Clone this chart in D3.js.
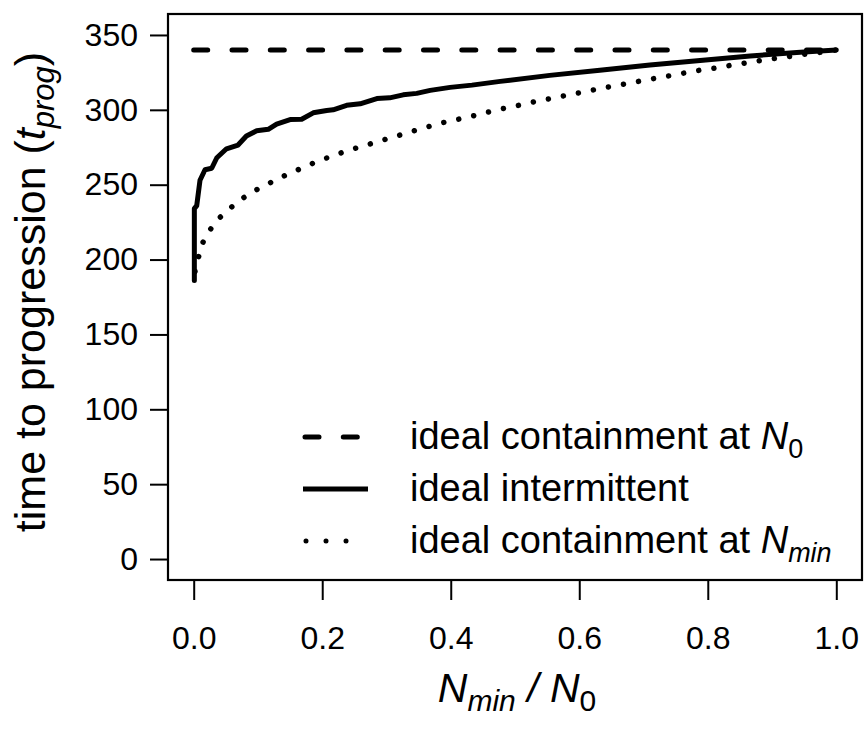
<!DOCTYPE html>
<html><head><meta charset="utf-8">
<script src="https://cdn.jsdelivr.net/npm/d3@7"></script>
<style>body{margin:0;background:#fff}text{font-family:"Liberation Sans",Arial,Helvetica,sans-serif;fill:#000}</style>
</head><body><svg id="c" width="864" height="734"></svg>
<script>
const xTicks=[0,0.2,0.4,0.6,0.8,1.0];
const yTicks=[0,50,100,150,200,250,300,350];
const containN0X=[0,1];
const containN0Y=[340,340];
const intermX=[0.001,0.001,0.0047,0.0098,0.0176,0.028,0.036,0.051,0.069,0.082,0.098,0.116,0.129,0.150,0.168,0.186,0.207,0.217,0.238,0.259,0.285,0.305,0.326,0.347,0.368,0.399,0.433,0.477,0.554,0.632,0.71,0.788,0.866,0.944,1.0];
const intermY=[186,234,236,253,260,261,268,274,276.5,282.5,286,287,290.5,293.5,293.7,298,299.6,300,303,304,307.5,308,310,311,313,315,316.5,319,323,326.5,330,333,336,338.5,340];
const containNminX=[0.002,0.006,0.0125,0.024,0.038,0.053,0.070,0.090,0.109,0.131,0.152,0.173,0.195,0.218,0.241,0.265,0.288,0.312,0.335,0.359,0.383,0.4326,0.4575,0.4818,0.5067,0.532,0.557,0.582,0.609,0.634,0.660,0.685,0.711,0.736,0.761,0.788,0.814,0.839,0.866,0.892,0.917,0.945,0.969,1.0];
const containNminY=[192,199,210,219,227,233,239,245,249,254,258,262,266,269.5,273,276,279,282,285,288,291,295.7,298.4,300.9,303.1,305.6,307.6,309.9,312.1,314.4,316.4,318.4,320.5,322.4,324.4,326.5,328,330,331.8,333.6,335,336.8,338,340];
const legendLabels=[["ideal containment at ","N","0"],["ideal intermittent","",""],["ideal containment at ","N","min"]];

const svg=d3.select("#c");
const L=168,R=862,T=14,B=580;
const xs=d3.scaleLinear().domain([-0.04,1.04]).range([L,R]);
const ys=d3.scaleLinear().domain([-14,364]).range([B,T]);
const FT=32, FL=38, FX=41, FY=43;

// axes
const gx=svg.append("g").attr("transform",`translate(0,${B})`)
 .call(d3.axisBottom(xs).tickValues(xTicks).tickFormat(d3.format(".1f")).tickSize(20).tickPadding(26));
gx.select(".domain").remove();
gx.selectAll("line").attr("stroke","#000").attr("stroke-width",2);
gx.selectAll("text").style("font-size",FT+"px").attr("font-family","Liberation Sans, Arial, sans-serif");
const gy=svg.append("g").attr("transform",`translate(${L},0)`)
 .call(d3.axisLeft(ys).tickValues(yTicks).tickSize(18).tickPadding(12));
gy.select(".domain").remove();
gy.selectAll("line").attr("stroke","#000").attr("stroke-width",2);
gy.selectAll("text").style("font-size",FT+"px").attr("font-family","Liberation Sans, Arial, sans-serif");

// box
svg.append("rect").attr("x",L).attr("y",T).attr("width",R-L).attr("height",B-T).attr("fill","none").attr("stroke","#000").attr("stroke-width",2.2);

const line=d3.line().x(d=>xs(d[0])).y(d=>ys(d[1]));
const zip=(a,b)=>a.map((v,i)=>[v,b[i]]);
svg.append("path").datum(zip(containN0X,containN0Y)).attr("d",line).attr("fill","none").attr("stroke","#000")
 .attr("stroke-width",5).attr("stroke-linecap","round").attr("stroke-dasharray","14,24.3");
svg.append("path").datum(zip(intermX,intermY)).attr("d",line).attr("fill","none").attr("stroke","#000")
 .attr("stroke-width",5).attr("stroke-linejoin","round").attr("stroke-linecap","round");
svg.append("path").datum(zip(containNminX,containNminY)).attr("d",line).attr("fill","none").attr("stroke","#000")
 .attr("stroke-width",5.5).attr("stroke-linecap","round").attr("stroke-dasharray","0.01,15.3");

// legend
const ly=[437,489,541];
const lg=svg.append("g");
lg.append("line").attr("x1",305).attr("x2",366).attr("y1",ly[0]).attr("y2",ly[0]).attr("stroke","#000").attr("stroke-width",5).attr("stroke-linecap","round").attr("stroke-dasharray","14,24.3");
lg.append("line").attr("x1",303).attr("x2",368).attr("y1",ly[1]).attr("y2",ly[1]).attr("stroke","#000").attr("stroke-width",5);
lg.append("line").attr("x1",306).attr("x2",366).attr("y1",ly[2]).attr("y2",ly[2]).attr("stroke","#000").attr("stroke-width",5).attr("stroke-linecap","round").attr("stroke-dasharray","0.01,20");
legendLabels.forEach((lab,i)=>{
  const t=lg.append("text").attr("x",410).attr("y",ly[i]+12).style("font-size",FL+"px");
  t.append("tspan").text(lab[0]);
  if(lab[1]){
    t.append("tspan").style("font-style","italic").text(lab[1]);
    t.append("tspan").attr("dy",9).style("font-size",Math.round(FL*0.72)+"px").style("font-style",lab[2]==="0"?"normal":"italic").text(lab[2]);
  }
});

// x title
const xt=svg.append("text").attr("x",517).attr("y",702).attr("text-anchor","middle").style("font-size",FX+"px").style("font-style","italic");
xt.append("tspan").text("N");
xt.append("tspan").attr("dy",9).style("font-size",Math.round(FX*0.72)+"px").text("min");
xt.append("tspan").attr("dy",-9).text(" / N");
xt.append("tspan").attr("dy",9).style("font-size",Math.round(FX*0.72)+"px").style("font-style","normal").text("0");

// y title
const yt=svg.append("text").attr("transform","translate(45,292) rotate(-90)").attr("text-anchor","middle").style("font-size",FY+"px");
yt.append("tspan").text("time to progression (");
yt.append("tspan").style("font-style","italic").text("t");
yt.append("tspan").attr("dy",9).style("font-size",Math.round(FY*0.72)+"px").style("font-style","italic").text("prog");
yt.append("tspan").attr("dy",-9).text(")");
</script></body></html>
